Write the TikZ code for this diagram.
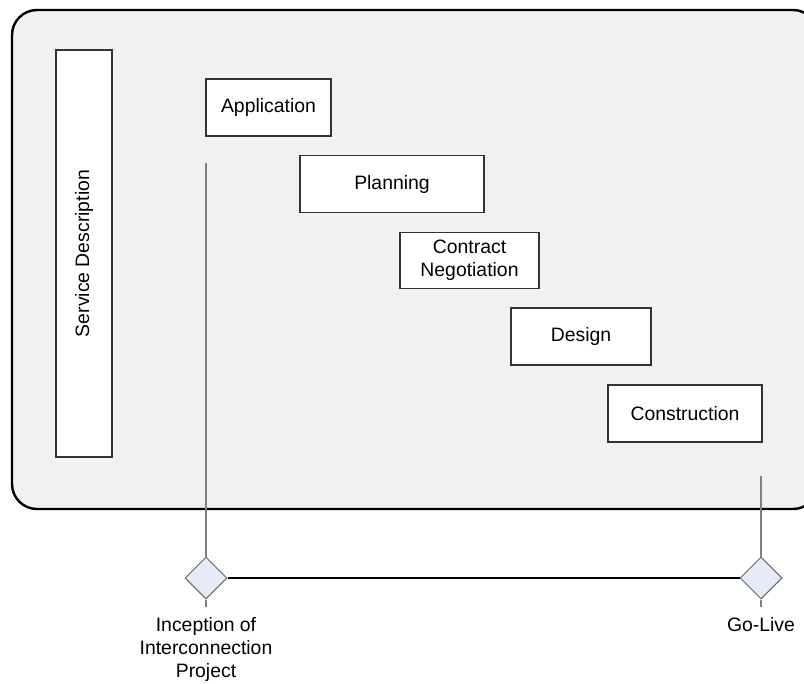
\documentclass[tikz,border=0pt]{standalone}
\usepackage{fontspec}
\setmainfont{Liberation Sans}
\usetikzlibrary{shapes.geometric,positioning}
\definecolor{panelgray}{RGB}{241,241,241}
\definecolor{milefill}{RGB}{230,236,247}
\definecolor{stemgray}{RGB}{128,128,128}

\begin{document}
\begin{tikzpicture}[x=1bp,y=-1bp,
        font=\fontsize{19.4bp}{23bp}\selectfont,
        phase/.style={draw=black!80,line width=1.3bp,fill=white,rectangle,inner sep=0pt,align=center},
        milestone/.style={draw=black!60,line width=1bp,fill=milefill,diamond,minimum size=42bp,inner sep=0pt},
        stem/.style={draw=stemgray,line width=1.8bp},
        timeline/.style={draw=black,line width=2.8bp}]

    \clip (0,0) rectangle (804,684);
    \useasboundingbox (0,0) rectangle (804,684);

    % project panel
    \draw[line width=2.4bp,fill=panelgray,rounded corners=25bp] (12,10) rectangle (818,509);

    \node[phase,rotate=90,minimum width=407bp,minimum height=56bp] (svc) at (84,253.5) {Service Description};

    % phases
    \node[phase,minimum width=125bp,minimum height=57bp] (app) at (268.5,107.5) {Application};
    \node[phase,minimum width=184bp,minimum height=57bp] (plan) at (392,184) {Planning};
    \node[phase,minimum width=139bp,minimum height=56bp] (neg) at (469.5,260.5) {Contract\\Negotiation};
    \node[phase,minimum width=140bp,minimum height=57bp] (design) at (581,336.5) {Design};
    \node[phase,minimum width=154bp,minimum height=57bp] (constr) at (685,413.5) {Construction};

    % milestones
    \node[milestone] (inc) at (206,578) {};
    \node[milestone] (golive) at (761,578) {};
    \coordinate (inctop) at (206,163);
    \coordinate (incend) at (206,607);
    \coordinate (gotop) at (761,476);
    \coordinate (goend) at (761,607);

    \draw[stem] (inctop) -- (inc.north);
    \draw[stem] (inc.south) -- (incend);
    \draw[stem] (gotop) -- (golive.north);
    \draw[stem] (golive.south) -- (goend);
    \draw[timeline] (inc.east) -- (golive.west);

    \node[align=center,anchor=north,inner sep=0pt] (inclbl) at (206,617) {Inception of\\Interconnection\\Project};
    \node[anchor=north,inner sep=0pt] (golbl) at (761,617) {Go-Live};
\end{tikzpicture}
\end{document}
